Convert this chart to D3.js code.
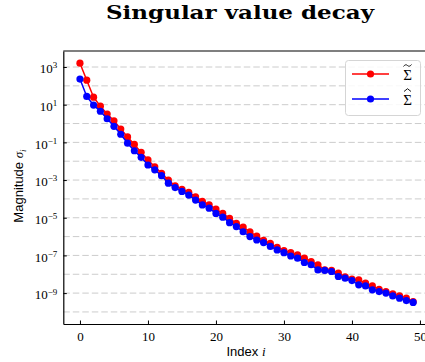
<!DOCTYPE html>
<html>
<head>
<meta charset="utf-8">
<script src="https://cdn.jsdelivr.net/npm/d3@7"></script>
<style>
  html, body { margin: 0; padding: 0; background: #fff; }
  svg { display: block; }
</style>
</head>
<body>
<svg id="chart" width="425" height="362"></svg>
<script>
// Singular values per index for the two estimates
const indices = d3.range(50);
const sigmaTilde = [
  1.6e3, 2.0e2, 2.5e1, 8.3, 3.2, 1.4, 5.1e-1, 1.95e-1, 7.8e-2, 2.95e-2,
  1.17e-2, 5.1e-3, 2.3e-3, 1.0e-3, 5.0e-4, 3.2e-4, 2.2e-4, 1.3e-4, 7.4e-5, 4.9e-5,
  2.9e-5, 1.7e-5, 9.3e-6, 5.1e-6, 3.2e-6, 1.8e-6, 1.07e-6, 6.3e-7, 4.4e-7, 2.7e-7,
  1.8e-7, 1.4e-7, 1.07e-7, 7.1e-8, 4.7e-8, 3.2e-8, 1.7e-8, 1.6e-8, 1.15e-8, 7.2e-9,
  5.5e-9, 5.0e-9, 3.4e-9, 2.4e-9, 1.6e-9, 1.2e-9, 9.1e-10, 7.1e-10, 5.4e-10, 3.5e-10
];
const sigmaHat = [
  2.3e2, 2.75e1, 9.5, 4.5, 1.8, 7.1e-1, 2.7e-1, 9.1e-2, 3.6e-2, 1.6e-2,
  6.3e-3, 3.5e-3, 1.7e-3, 6.8e-4, 4.0e-4, 2.5e-4, 1.6e-4, 8.7e-5, 4.8e-5, 3.2e-5,
  1.7e-5, 1.07e-5, 5.5e-6, 3.4e-6, 1.8e-6, 1.0e-6, 6.6e-7, 4.8e-7, 3.0e-7, 1.95e-7,
  1.4e-7, 9.3e-8, 7.1e-8, 4.2e-8, 3.2e-8, 1.7e-8, 1.6e-8, 1.4e-8, 7.6e-9, 6.2e-9,
  4.6e-9, 2.75e-9, 2.4e-9, 1.5e-9, 1.2e-9, 1.0e-9, 7.1e-10, 5.4e-10, 4.0e-10, 3.2e-10
];
const xTicks = [0, 10, 20, 30, 40, 50];
const yTickExps = [3, 1, -1, -3, -5, -7, -9];
const gridExps = d3.range(3, -11, -1);
const legendAccents = ["tilde", "hat"];

const series = [
  { name: "tilde", values: sigmaTilde, color: "#ff0000" },
  { name: "hat", values: sigmaHat, color: "#0000ff" }
];

const svg = d3.select("#chart");
const plotLeft = 63.3, plotTop = 51, plotBottom = 324, plotRight = 429.8;

const x = d3.scaleLinear().domain([-2.45, 51.45]).range([plotLeft, plotRight]);
const y = d3.scaleLog().domain([Math.pow(10, -10.64), Math.pow(10, 3.85)]).range([plotBottom, plotTop]);

const serif = "'Liberation Serif', 'DejaVu Serif', serif";
const sans = "'Liberation Sans', Arial, sans-serif";

// Title in a wide bold serif
svg.append("text")
  .attr("x", 240).attr("y", 19)
  .attr("text-anchor", "middle")
  .attr("font-family", "'DejaVu Serif', serif")
  .attr("font-weight", "bold")
  .attr("font-size", 18)
  .attr("textLength", 268).attr("lengthAdjust", "spacingAndGlyphs")
  .attr("fill", "#000")
  .text("Singular value decay");

// Dashed grid at every decade
svg.append("g").selectAll("line").data(gridExps).join("line")
  .attr("x1", plotLeft).attr("x2", plotRight)
  .attr("y1", d => y(Math.pow(10, d))).attr("y2", d => y(Math.pow(10, d)))
  .attr("stroke", "#cccccc").attr("stroke-width", 1)
  .attr("stroke-dasharray", "6.5,3");

// Axes with inward ticks
const xAxis = d3.axisBottom(x).tickValues(xTicks).tickSizeInner(-3.5).tickSizeOuter(0).tickPadding(8);
const gx = svg.append("g").attr("transform", `translate(0,${plotBottom})`).call(xAxis);
gx.select(".domain").attr("stroke-width", 1.2);
gx.selectAll(".tick line").attr("stroke-width", 1);
gx.selectAll(".tick text").attr("font-family", serif).attr("font-size", 13).attr("fill", "#000");

const yAxis = d3.axisLeft(y).tickValues(yTickExps.map(e => Math.pow(10, e)))
  .tickSizeInner(-3.5).tickSizeOuter(0).tickPadding(6).tickFormat(() => "");
const gy = svg.append("g").attr("transform", `translate(${plotLeft},0)`).call(yAxis);
gy.select(".domain").attr("stroke-width", 1.2);
gy.selectAll(".tick line").attr("stroke-width", 1);
gy.selectAll(".tick text").each(function(d) {
  const e = Math.round(Math.log10(d));
  const t = d3.select(this)
    .attr("font-family", serif).attr("font-size", 13).attr("fill", "#000")
    .attr("x", -6).attr("dy", "0.45em");
  t.text(null);
  t.append("tspan").text("10");
  t.append("tspan").attr("font-size", 9).attr("dy", "-0.55em")
    .text(e < 0 ? "\u2212" + Math.abs(e) : String(e));
});

// Top and right spines
svg.append("line")
  .attr("x1", plotLeft).attr("x2", plotRight).attr("y1", plotTop).attr("y2", plotTop)
  .attr("stroke", "#000").attr("stroke-width", 1.2);
svg.append("line")
  .attr("x1", plotRight).attr("x2", plotRight).attr("y1", plotTop).attr("y2", plotBottom)
  .attr("stroke", "#000").attr("stroke-width", 1.2);

// Series lines and markers
const line = d3.line().x((d, i) => x(indices[i])).y(d => y(d));
series.forEach(s => {
  const g = svg.append("g");
  g.append("path").datum(s.values)
    .attr("d", line).attr("fill", "none")
    .attr("stroke", s.color).attr("stroke-width", 1.5);
  g.selectAll("circle").data(s.values).join("circle")
    .attr("cx", (d, i) => x(indices[i])).attr("cy", d => y(d))
    .attr("r", 3.6).attr("fill", s.color);
});

// Axis labels
svg.append("text")
  .attr("x", 246).attr("y", 356)
  .attr("text-anchor", "middle")
  .attr("font-family", sans).attr("font-size", 13).attr("fill", "#000")
  .call(t => {
    t.append("tspan").text("Index ");
    t.append("tspan").attr("font-family", serif).attr("font-style", "italic").text("i");
  });

svg.append("text")
  .attr("transform", "translate(23,186) rotate(-90)")
  .attr("text-anchor", "middle")
  .attr("font-family", sans).attr("font-size", 13).attr("fill", "#000")
  .call(t => {
    t.append("tspan").text("Magnitude ");
    t.append("tspan").attr("font-family", serif).attr("font-style", "italic").text("\u03c3");
    t.append("tspan").attr("font-family", serif).attr("font-style", "italic")
      .attr("font-size", 9).attr("dy", "0.3em").text("i");
  });

// Legend: line + marker sample, then a Sigma with its accent drawn above
const lg = svg.append("g");
lg.append("rect")
  .attr("x", 345.5).attr("y", 60.5).attr("width", 75).attr("height", 55)
  .attr("rx", 3).attr("fill", "#fff").attr("fill-opacity", 0.85)
  .attr("stroke", "#d5d5d5").attr("stroke-width", 1);
series.forEach((s, k) => {
  const ly = 74 + k * 25;
  lg.append("line").attr("x1", 352).attr("x2", 389).attr("y1", ly).attr("y2", ly)
    .attr("stroke", s.color).attr("stroke-width", 1.5);
  lg.append("circle").attr("cx", 370.5).attr("cy", ly).attr("r", 3.6).attr("fill", s.color);
  lg.append("text")
    .attr("x", 407.5).attr("y", ly + 6)
    .attr("text-anchor", "middle")
    .attr("font-family", serif).attr("font-size", 15).attr("fill", "#000")
    .text("\u03a3");
  const ay = ly - 8.5;
  const accent = legendAccents[k] === "tilde"
    ? `M403.5,${ay + 1} C405,${ay - 1.2} 406.5,${ay - 1} 407.5,${ay} S410,${ay + 1.2} 411.5,${ay - 1}`
    : `M404,${ay + 1} L407.5,${ay - 1.8} L411,${ay + 1}`;
  lg.append("path").attr("d", accent)
    .attr("fill", "none").attr("stroke", "#000").attr("stroke-width", 0.9);
});
</script>
</body>
</html>
